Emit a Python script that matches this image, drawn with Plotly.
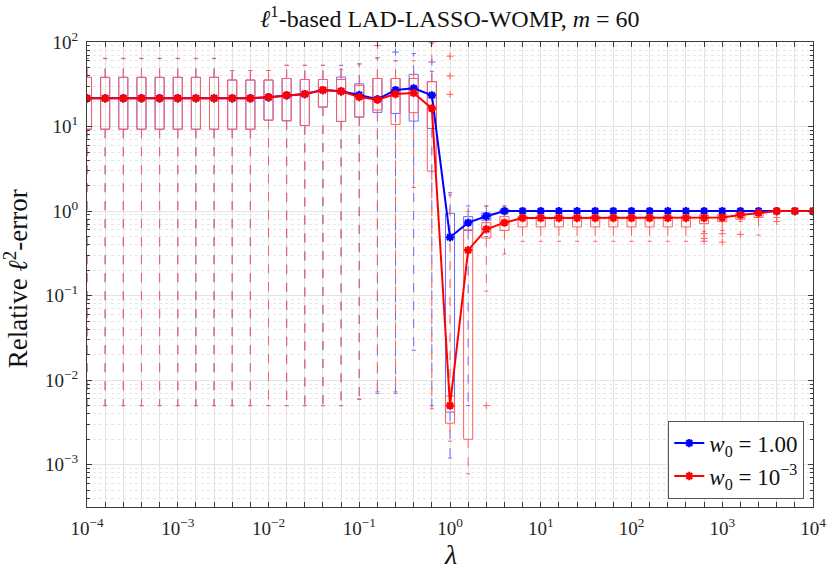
import plotly.graph_objects as go

# ---------------- data ----------------
LAMBDA = [1.0e-4, 1.585e-4, 2.512e-4, 3.981e-4, 6.310e-4,
          1.0e-3, 1.585e-3, 2.512e-3, 3.981e-3, 6.310e-3,
          1.0e-2, 1.585e-2, 2.512e-2, 3.981e-2, 6.310e-2,
          1.0e-1, 1.585e-1, 2.512e-1, 3.981e-1, 6.310e-1,
          1.0e0, 1.585e0, 2.512e0, 3.981e0, 6.310e0,
          1.0e1, 1.585e1, 2.512e1, 3.981e1, 6.310e1,
          1.0e2, 1.585e2, 2.512e2, 3.981e2, 6.310e2,
          1.0e3, 1.585e3, 2.512e3, 3.981e3, 6.310e3,
          1.0e4]

X_DECADES = [1e-4, 1e-3, 1e-2, 1e-1, 1e0, 1e1, 1e2, 1e3, 1e4]
X_DECADE_LABELS = ["10<sup>−4</sup>", "10<sup>−3</sup>", "10<sup>−2</sup>", "10<sup>−1</sup>",
                   "10<sup>0</sup>", "10<sup>1</sup>", "10<sup>2</sup>", "10<sup>3</sup>", "10<sup>4</sup>"]
Y_DECADES = [1e-3, 1e-2, 1e-1, 1e0, 1e1, 1e2]
Y_DECADE_LABELS = ["10<sup>−3</sup>", "10<sup>−2</sup>", "10<sup>−1</sup>",
                   "10<sup>0</sup>", "10<sup>1</sup>", "10<sup>2</sup>"]

# w0 = 1e-3 (red)
RED_MED = [21.6, 21.6, 21.6, 21.6, 21.6, 21.6, 21.6, 21.6, 21.6, 21.6,
           22.2, 23.4, 24.2, 27.0, 26.1, 22.3, 20.8, 24.3, 24.9, 16.4,
           0.005, 0.345, 0.61, 0.73, 0.83, 0.83, 0.83, 0.83, 0.83, 0.83,
           0.83, 0.83, 0.83, 0.83, 0.83, 0.84, 0.90, 0.95, 1.0, 1.0, 1.0]
RED_Q1 = [9.3, 9.3, 9.3, 9.3, 9.3, 9.3, 9.3, 9.3, 9.3, 9.3,
          11.9, 11.7, 10.3, 17.0, 11.5, 12.9, 15.7, 10.6, 14.6, 2.97,
          0.0031, 0.002, 0.48, 0.59, 0.65, 0.65, 0.65, 0.65, 0.65, 0.65,
          0.65, 0.65, 0.65, 0.65, 0.71, 0.75, 0.80, 0.84, 1.0, 1.0, 1.0]
RED_Q3 = [38.2, 38.2, 38.2, 38.2, 38.2, 38.2, 38.2, 38.2, 35.5, 35.5,
          35.5, 37.0, 36.0, 36.0, 36.0, 30.7, 37.0, 37.0, 37.0, 34.0,
          0.0065, 0.60, 0.73, 0.86, 0.87, 0.87, 0.87, 0.87, 0.87, 0.87,
          0.87, 0.87, 0.87, 0.87, 0.90, 0.91, 0.955, 1.0, 1.0, 1.0, 1.0]
RED_LW = [0.005, 0.005, 0.005, 0.005, 0.005, 0.005, 0.005, 0.005, 0.005, 0.005,
          0.005, 0.005, 0.005, 0.005, 0.005, 0.0059, 0.0073, 0.0073, 1.9, 0.0046,
          0.0019, 0.00078, 0.113, 0.31, 0.44, 0.44, 0.44, 0.44, 0.44, 0.44,
          0.44, 0.44, 0.44, 0.44, 0.57, 0.59, 0.75, 0.52, 1.0, 1.0, 1.0]
RED_UW = [64.0, 64.0, 64.0, 64.0, 64.0, 64.0, 64.0, 64.0, 46.0, 46.0,
          46.0, 53.0, 53.0, 53.0, 47.0, 55.0, 65.0, 60.0, 60.0, 97.0,
          1.55, 0.99, 1.15, 1.15, 1.0, 1.0, 1.0, 1.0, 1.0, 1.0,
          1.0, 1.0, 1.0, 1.0, 1.0, 1.0, 1.0, 1.0, 1.0, 1.0, 1.0]
RED_OUT_IDX = [16, 19, 20, 20, 20, 22, 34, 34, 34, 35, 35, 36, 38, 38]
RED_OUT_VAL = [91.0, 100.0, 68.0, 39.6, 24.0, 0.005, 0.54, 0.475, 0.44, 0.54, 0.43, 0.53, 0.84, 0.75]

# w0 = 1.00 (blue)
BLUE_MED = [21.6, 21.6, 21.6, 21.6, 21.6, 21.6, 21.6, 21.6, 21.6, 21.6,
            22.2, 23.4, 24.2, 27.0, 26.1, 23.6, 21.0, 27.0, 28.3, 23.4,
            0.49, 0.73, 0.87, 1.0, 1.0, 1.0, 1.0, 1.0, 1.0, 1.0,
            1.0, 1.0, 1.0, 1.0, 1.0, 1.0, 1.0, 1.0, 1.0, 1.0, 1.0]
BLUE_Q1 = [9.3, 9.3, 9.3, 9.3, 9.3, 9.3, 9.3, 9.3, 9.3, 9.3,
           11.9, 11.7, 10.3, 17.0, 11.5, 13.0, 14.7, 14.3, 11.6, 9.5,
           0.0042, 0.59, 0.78, 0.97, 1.0, 1.0, 1.0, 1.0, 1.0, 1.0,
           1.0, 1.0, 1.0, 1.0, 1.0, 1.0, 1.0, 1.0, 1.0, 1.0, 1.0]
BLUE_Q3 = [38.2, 38.2, 38.2, 38.2, 38.2, 38.2, 38.2, 38.2, 35.5, 35.5,
           35.5, 37.0, 36.0, 36.0, 38.5, 32.0, 37.0, 37.0, 41.5, 34.0,
           0.94, 0.86, 0.95, 1.05, 1.0, 1.0, 1.0, 1.0, 1.0, 1.0,
           1.0, 1.0, 1.0, 1.0, 1.0, 1.0, 1.0, 1.0, 1.0, 1.0, 1.0]
BLUE_LW = [0.005, 0.005, 0.005, 0.005, 0.005, 0.005, 0.005, 0.005, 0.005, 0.005,
           0.005, 0.005, 0.005, 0.005, 0.005, 0.006, 0.007, 0.007, 0.0226, 0.005,
           0.0012, 0.005, 0.5, 0.93, 1.0, 1.0, 1.0, 1.0, 1.0, 1.0,
           1.0, 1.0, 1.0, 1.0, 1.0, 1.0, 1.0, 1.0, 1.0, 1.0, 1.0]
BLUE_UW = [64.0, 64.0, 64.0, 64.0, 64.0, 64.0, 64.0, 64.0, 46.0, 46.0,
           46.0, 53.0, 53.0, 53.0, 53.0, 55.0, 65.0, 60.0, 73.0, 45.0,
           1.65, 1.15, 1.15, 1.15, 1.0, 1.0, 1.0, 1.0, 1.0, 1.0,
           1.0, 1.0, 1.0, 1.0, 1.0, 1.0, 1.0, 1.0, 1.0, 1.0, 1.0]
BLUE_OUT_IDX = [17, 19]
BLUE_OUT_VAL = [76.0, 58.0]

for arr in (RED_MED, RED_Q1, RED_Q3, RED_LW, RED_UW, BLUE_MED, BLUE_Q1, BLUE_Q3, BLUE_LW, BLUE_UW):
    assert len(arr) == len(LAMBDA), len(arr)

# ---------------- styling ----------------
FONT = "Liberation Serif"
BOX_HALF = 10 ** 0.05   # multiplicative half-width of a box on the log axis
CAP_HALF = 10 ** 0.022
RED = "rgb(255,0,0)"
BLUE = "rgb(0,0,255)"
RED_BOX = "rgb(255,95,95)"
BLUE_BOX = "rgb(105,105,255)"


def box_traces(med, q1, q3, lw, uw, out_idx, out_val, color):
    bx, by = [], []
    wx, wy = [], []
    cx, cy = [], []
    for lam, m, a, b, lo, hi in zip(LAMBDA, med, q1, q3, lw, uw):
        l, r = lam / BOX_HALF, lam * BOX_HALF
        bx += [l, r, r, l, l, None, l, r, None]
        by += [a, a, b, b, a, None, m, m, None]
        wx += [lam, lam, None, lam, lam, None]
        wy += [b, hi, None, a, lo, None]
        cl, cr = lam / CAP_HALF, lam * CAP_HALF
        cx += [cl, cr, None, cl, cr, None]
        cy += [hi, hi, None, lo, lo, None]
    return [
        go.Scatter(x=wx, y=wy, mode="lines", line=dict(color=color, width=1, dash="dash"),
                   showlegend=False, hoverinfo="skip"),
        go.Scatter(x=cx, y=cy, mode="lines", line=dict(color=color, width=1),
                   showlegend=False, hoverinfo="skip"),
        go.Scatter(x=bx, y=by, mode="lines", line=dict(color=color, width=1),
                   showlegend=False, hoverinfo="skip"),
        go.Scatter(x=[LAMBDA[i] for i in out_idx], y=out_val, mode="markers",
                   marker=dict(symbol="cross-thin", size=5, line=dict(color=color, width=1)),
                   showlegend=False, hoverinfo="skip"),
    ]


fig = go.Figure()
for t in box_traces(BLUE_MED, BLUE_Q1, BLUE_Q3, BLUE_LW, BLUE_UW, BLUE_OUT_IDX, BLUE_OUT_VAL, BLUE_BOX):
    fig.add_trace(t)
for t in box_traces(RED_MED, RED_Q1, RED_Q3, RED_LW, RED_UW, RED_OUT_IDX, RED_OUT_VAL, RED_BOX):
    fig.add_trace(t)

fig.add_trace(go.Scatter(
    x=LAMBDA, y=BLUE_MED, mode="lines+markers", name="<i>w</i><sub>0</sub> = 1.00",
    line=dict(color=BLUE, width=2),
    marker=dict(symbol="asterisk-open", size=7, line=dict(color=BLUE, width=2.2)),
))
fig.add_trace(go.Scatter(
    x=LAMBDA, y=RED_MED, mode="lines+markers", name="<i>w</i><sub>0</sub> = 10<sup>−3</sup>",
    line=dict(color=RED, width=2),
    marker=dict(symbol="asterisk-open", size=7, line=dict(color=RED, width=2.2)),
))

# lambda grid positions that are not decades -> minor ticks of main x axis
lam_between = [lam for lam in LAMBDA if all(abs(lam / d - 1) > 1e-3 for d in X_DECADES)]
x_logminor = [m * d for d in [1e-4, 1e-3, 1e-2, 1e-1, 1e0, 1e1, 1e2, 1e3] for m in range(2, 10)]
y_logminor = [m * d for d in [1e-4, 1e-3, 1e-2, 1e-1, 1e0, 1e1] for m in range(2, 10)]

AXIS_COLOR = "#3a3a3a"
GRID = "#e3e3e3"
MINOR_GRID = "#e6e6e6"
TICKFONT = dict(family=FONT, size=19, color="#262626")

fig.update_layout(
    width=830, height=576,
    margin=dict(l=87, r=17, t=42, b=69),
    paper_bgcolor="white", plot_bgcolor="white",
    font=dict(family=FONT, size=18, color="#222222"),
    title=dict(text="<i>ℓ</i><sup>1</sup>-based LAD-LASSO-WOMP, <i>m</i> = 60",
               x=0.5, xref="paper", xanchor="center",
               y=1 - 19 / 576, yref="container", yanchor="middle",
               font=dict(family=FONT, size=24, color="#111111")),
    showlegend=True,
    legend=dict(x=0.988, y=0.018, xanchor="right", yanchor="bottom",
                bgcolor="white", bordercolor="#555555", borderwidth=1,
                font=dict(family=FONT, size=23, color="#111111"),
                itemwidth=30, tracegroupgap=0),
    annotations=[
        dict(text="Relative <i>ℓ</i><sup>2</sup>-error", xref="paper", yref="paper",
             x=0, y=0.49, xshift=-71, xanchor="center", yanchor="middle", textangle=-90,
             showarrow=False, font=dict(family=FONT, size=27, color="#111111")),
        dict(text="<i>λ</i>", xref="paper", yref="paper",
             x=0.5, y=0, yshift=-47, xanchor="center", yanchor="middle",
             showarrow=False, font=dict(family=FONT, size=28, color="#111111")),
    ],
)

fig.update_layout(
    xaxis=dict(
        type="log", range=[-4, 4], automargin=False,
        tickmode="array", tickvals=X_DECADES, ticktext=X_DECADE_LABELS,
        ticks="inside", ticklen=5, tickcolor=AXIS_COLOR, tickwidth=1,
        showline=True, linecolor=AXIS_COLOR, linewidth=1, mirror="ticks",
        showgrid=True, gridcolor=GRID, gridwidth=1, ticklabelstandoff=4,
        minor=dict(tickmode="array", tickvals=lam_between, ticks="inside", ticklen=5,
                   tickcolor=AXIS_COLOR, showgrid=True, gridcolor=GRID, gridwidth=1),
        tickfont=TICKFONT, zeroline=False,
    ),
    xaxis2=dict(
        type="log", range=[-4, 4], overlaying="x", anchor="y", automargin=False,
        tickmode="array", tickvals=x_logminor, showticklabels=False, ticks="",
        showline=False, showgrid=True, gridcolor=MINOR_GRID, griddash="dot", gridwidth=1,
        zeroline=False,
    ),
    yaxis=dict(
        type="log", range=[-3.5, 2], automargin=False,
        tickmode="array", tickvals=Y_DECADES, ticktext=Y_DECADE_LABELS,
        ticks="inside", ticklen=5, tickcolor=AXIS_COLOR, tickwidth=1,
        showline=True, linecolor=AXIS_COLOR, linewidth=1, mirror="ticks",
        showgrid=True, gridcolor=GRID, gridwidth=1, ticklabelstandoff=4,
        minor=dict(tickmode="array", tickvals=y_logminor, ticks="inside", ticklen=3,
                   tickcolor=AXIS_COLOR, showgrid=True,
                   gridcolor=MINOR_GRID, griddash="dot", gridwidth=1),
        tickfont=TICKFONT, zeroline=False,
    ),
)

fig.write_html("out.html", config={"displayModeBar": False},
               post_script="document.body.style.margin='0px';")
